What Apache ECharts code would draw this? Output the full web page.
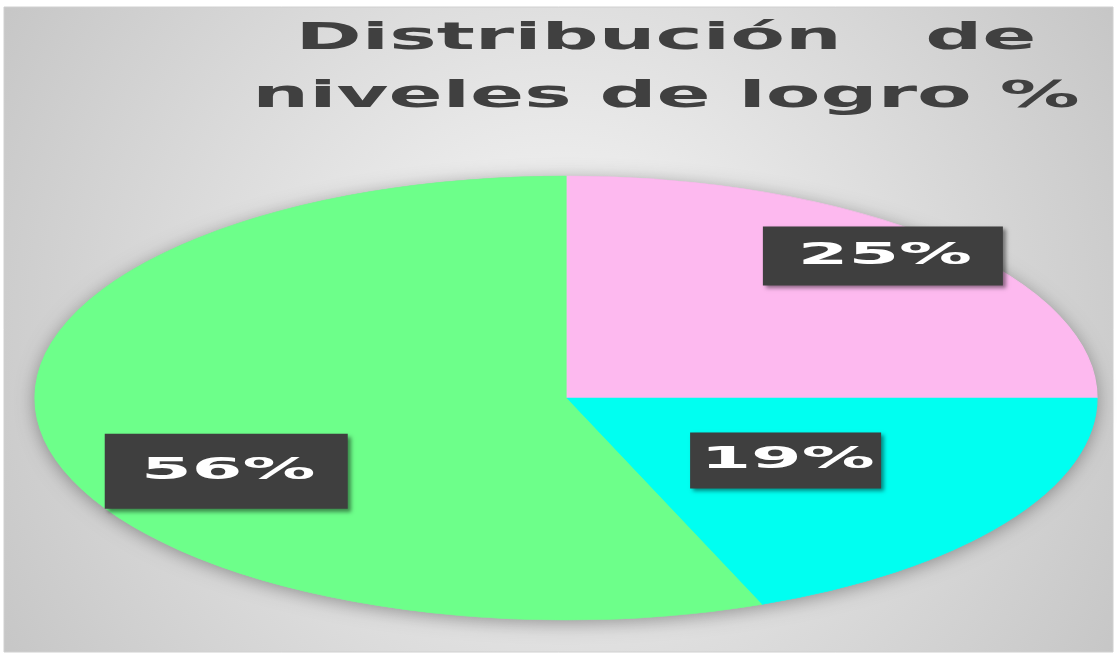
<!DOCTYPE html>
<html>
<head>
<meta charset="utf-8">
<script src="https://cdn.jsdelivr.net/npm/echarts@6/dist/echarts.min.js"></script>
<style>
html, body { margin: 0; padding: 0; background: #fff; }
#main { width: 1117px; height: 658px; }
</style>
</head>
<body>
<div id="main"></div>
<script>
var categories = ['Nivel 1', 'Nivel 2', 'Nivel 3'];
var values = [25, 19, 56];
var titleLines = ['Distribución   de', 'niveles de logro %'];

var colors = ['#fdb9ef', '#00fff1', '#6dff8a'];
// the picture is a widened excel pie, so the circle gets stretched on x
var pie = { cx: 566, cy: 398, r: 222, sx: 2.392 };
var labelPlace = [
    { frac: 0.875, shift: -2, w: 240, h: 59 },
    { frac: 0.5, shift: 0, w: 191, h: 56 },
    { frac: 0.72, shift: -16.5, w: 243, h: 75 }
];

var total = values.reduce(function (a, b) { return a + b; }, 0);
var startAngles = [];
var acc = -90;
for (var i = 0; i < values.length; i++) {
    startAngles.push(acc);
    acc += values[i] / total * 360;
}

function renderItem(params, api) {
    var i = params.dataIndex;
    var v = api.value(0);
    var rad = Math.PI / 180;
    var a0 = startAngles[i];
    var a1 = a0 + v / total * 360;
    var children = [];
    if (i === 0) {
        children.push({
            type: 'ellipse',
            shape: { cx: pie.cx, cy: pie.cy, rx: pie.r * pie.sx, ry: pie.r },
            style: { fill: '#bbbbbb', shadowBlur: 18, shadowOffsetY: 3, shadowColor: 'rgba(0,0,0,0.35)' },
            z2: 0
        });
    }
    children.push({
        type: 'sector',
        x: pie.cx, y: pie.cy, scaleX: pie.sx,
        shape: { cx: 0, cy: 0, r0: 0, r: pie.r, startAngle: a0 * rad, endAngle: a1 * rad, clockwise: true },
        style: { fill: colors[i], stroke: colors[i], lineWidth: 0.5 },
        z2: 1
    });
    var p = labelPlace[i];
    var mid = ((a0 + a1) / 2 + p.shift) * rad;
    var lx = pie.cx + Math.cos(mid) * pie.r * p.frac * pie.sx;
    var ly = pie.cy + Math.sin(mid) * pie.r * p.frac;
    children.push({
        type: 'rect',
        shape: { x: lx - p.w / 2, y: ly - p.h / 2, width: p.w, height: p.h },
        style: { fill: '#3f3f3f', shadowBlur: 4, shadowOffsetX: 3, shadowOffsetY: 3, shadowColor: 'rgba(0,0,0,0.45)' },
        z2: 10
    });
    children.push({
        type: 'text',
        x: lx + 2, y: ly, scaleX: 2.35,
        style: {
            text: Math.round(v / total * 100) + '%',
            fill: '#ffffff',
            font: 'bold 31px "DejaVu Sans"',
            textAlign: 'center', textVerticalAlign: 'middle',
            align: 'center', verticalAlign: 'middle'
        },
        z2: 11
    });
    return { type: 'group', children: children };
}

var chart = echarts.init(document.getElementById('main'));
chart.setOption({
    animation: false,
    graphic: [
        {
            type: 'rect', z: -10,
            shape: { x: 4, y: 7, width: 1109, height: 645 },
            style: {
                fill: {
                    type: 'radial', x: 0.5, y: 0.5, r: 1,
                    colorStops: [{ offset: 0, color: '#f8f8f8' }, { offset: 1, color: '#c6c6c6' }]
                },
                stroke: '#d0d0d0', lineWidth: 1
            }
        },
        {
            type: 'text', z: -5, x: 666, y: 39, scaleX: 2.1,
            style: {
                text: titleLines[0], fill: '#404040', font: 'bold 38px "DejaVu Sans"',
                textAlign: 'center', textVerticalAlign: 'middle', align: 'center', verticalAlign: 'middle'
            }
        },
        {
            type: 'text', z: -5, x: 666, y: 97, scaleX: 2.1,
            style: {
                text: titleLines[1], fill: '#404040', font: 'bold 38px "DejaVu Sans"',
                textAlign: 'center', textVerticalAlign: 'middle', align: 'center', verticalAlign: 'middle'
            }
        }
    ],
    series: [{
        type: 'custom',
        coordinateSystem: 'none',
        renderItem: renderItem,
        data: values.map(function (v, i) { return { name: categories[i], value: v }; })
    }]
});
</script>
</body>
</html>
